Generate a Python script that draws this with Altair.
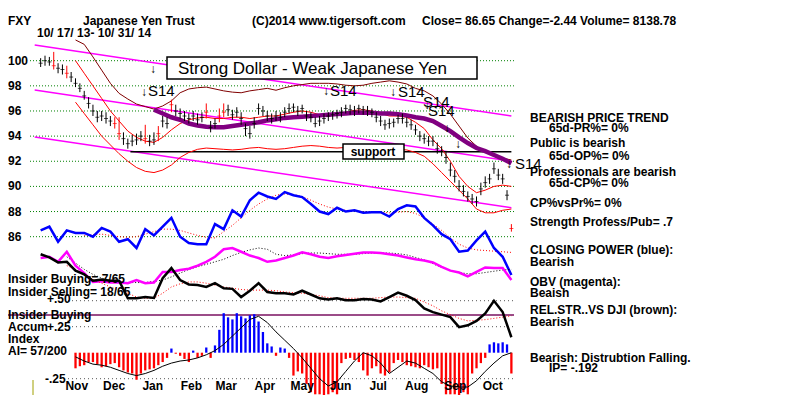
import altair as alt
import pandas as pd
import numpy as np

# ---------------- data ----------------
START = "2013-10-17"

# half-weekly price bars (index h -> week h/2 after START)
close = [99.8,100.0,99.9,99.6,99.4,99.3,99.0,98.7,98.2,97.8,
         97.2,96.6,96.0,95.5,95.6,95.4,95.2,95.0,94.2,93.8,
         93.4,93.6,93.7,94.0,93.8,93.6,93.7,94.2,95.2,95.0,
         96.5,96.0,95.8,95.6,95.4,95.6,95.3,95.5,95.9,94.7,
         95.0,95.6,95.9,96.1,95.7,95.9,95.4,94.6,94.2,95.0,
         96.2,96.0,95.6,95.4,95.6,95.5,95.9,96.2,96.3,96.0,
         96.2,95.6,95.5,95.0,95.2,95.4,95.6,95.7,95.8,95.9,
         96.2,96.1,96.0,96.2,96.1,96.0,95.9,95.5,95.2,94.9,
         95.0,95.1,95.4,95.4,95.1,94.9,94.5,94.0,93.8,93.6,
         93.6,93.0,92.8,92.3,91.3,90.8,90.0,89.6,89.2,89.0,
         88.8,89.8,90.3,90.6,91.4,90.9,90.6,89.3,86.65]
high = [100.2,100.4,100.3,100.7,99.8,99.7,99.6,99.1,98.6,98.2,
        97.6,97.1,96.5,96.0,96.0,95.9,95.6,95.5,95.5,94.3,
        93.8,94.1,94.2,94.4,94.9,94.1,94.3,94.8,95.6,95.5,
        96.9,96.5,96.2,96.0,95.8,96.0,95.8,95.9,96.6,95.2,
        95.4,96.2,96.6,96.5,96.1,96.3,95.9,95.0,94.8,95.5,
        96.6,96.4,96.0,95.8,96.0,95.9,96.3,96.6,96.6,96.4,
        96.5,96.0,95.9,95.5,95.6,95.8,95.9,96.0,96.1,96.3,
        96.5,96.5,96.4,96.5,96.4,96.4,96.2,95.9,95.6,95.3,
        95.4,95.4,95.7,95.8,95.5,95.3,94.9,94.4,94.2,94.0,
        94.0,93.5,93.2,92.8,91.9,91.3,90.5,90.1,89.6,89.4,
        89.2,90.3,90.8,91.0,91.9,91.4,91.0,89.7,87.0]
low = [99.5,99.6,99.6,99.3,99.0,98.9,98.6,98.3,97.9,97.5,
       96.9,96.2,95.6,95.1,95.2,95.0,94.8,94.6,93.7,93.3,
       93.0,93.2,93.3,93.6,93.4,93.2,93.3,93.6,94.7,94.6,
       95.9,95.6,95.4,95.2,95.0,95.2,94.9,95.1,95.4,94.3,
       94.6,95.1,95.5,95.6,95.3,95.5,94.9,94.0,93.8,94.6,
       95.7,95.6,95.2,95.0,95.2,95.1,95.5,95.8,95.9,95.6,
       95.8,95.2,95.1,94.7,94.8,95.0,95.2,95.3,95.4,95.5,
       95.8,95.7,95.6,95.8,95.7,95.6,95.5,95.1,94.8,94.5,
       94.6,94.7,95.0,95.0,94.7,94.5,94.1,93.6,93.4,93.2,
       93.2,92.6,92.4,91.8,90.8,90.3,89.6,89.2,88.8,88.6,
       88.4,89.3,89.9,90.2,91.0,90.5,90.2,88.9,86.4]
red_bars = [3, 6, 17, 18, 24, 27, 30, 38, 41, 42, 108]

# weekly overlays (week index w -> start offset given)
upper_start = 4
upper_band = [101.65,101.3,100.3,99.25,98.2,97.4,96.95,96.55,96.35,96.15,
              96.4,96.8,97.45,97.75,97.85,97.9,97.75,97.6,97.5,97.45,
              97.6,97.7,97.8,97.65,97.85,98.0,98.1,98.2,98.2,98.2,
              98.15,98.05,98.0,98.05,98.2,98.3,98.4,98.3,98.15,97.8,
              97.6,97.2,96.55,95.75,94.8,93.85,93.2,92.75,92.5,92.25,92.1]
mid_start = 4
mid_ma = [100.0,99.0,98.0,97.0,96.0,95.2,94.4,93.9,93.6,93.5,
          93.9,94.5,95.0,95.3,95.45,95.5,95.4,95.4,95.5,95.5,
          95.4,95.5,95.6,95.6,95.75,95.9,96.0,95.9,95.7,95.6,
          95.7,95.9,96.05,96.1,96.0,95.8,95.6,95.6,95.5,95.1,
          94.6,93.7,93.0,92.0,90.8,90.0,89.5,89.7,90.0,90.1,90.0]
lower_start = 4
lower_band = [96.7,95.8,94.9,94.0,93.3,92.6,92.0,91.5,91.2,91.1,
              91.3,91.7,92.3,92.7,92.95,93.05,93.0,92.95,92.9,92.95,
              93.05,93.1,93.0,92.95,93.0,93.1,93.2,93.25,93.2,93.1,
              93.05,93.1,93.15,93.1,93.05,93.0,93.0,92.95,92.9,92.7,
              92.4,91.8,91.1,90.4,89.7,89.0,88.2,87.9,87.9,88.1,88.2]
ma65_start = 13
ma65 = [96.1,95.8,95.5,95.3,95.0,94.85,94.75,94.7,94.7,94.8,
        94.9,95.0,95.1,95.25,95.35,95.45,95.5,95.55,95.6,95.65,
        95.7,95.75,95.8,95.85,95.85,95.85,95.8,95.8,95.75,95.65,
        95.5,95.4,95.2,94.8,94.4,93.9,93.45,93.05,92.8,92.5,
        92.2,91.85]

# trend lines: (week, price) end points
trend_ids = ["t1", "t1", "t2", "t2", "t3", "t3"]
trend_w = [-0.68, 54.0, -0.68, 54.0, -0.68, 54.0]
trend_p = [101.25, 95.6, 97.67, 92.0, 93.93, 88.3]
support_w = [10.3, 54.0]
support_p = [92.75, 92.75]

# lower indicator lines (in the price panel's units)
cp = [86.5,86.8,85.6,86.5,86.3,86.3,86.0,86.7,86.4,85.6,
      85.8,85.1,86.6,86.1,86.8,87.5,86.0,85.5,85.4,85.4,
      87.0,86.6,88.1,87.6,88.9,89.5,89.2,89.0,89.55,89.3,
      89.15,88.6,88.0,87.8,88.3,88.0,88.1,87.9,87.95,87.95,
      87.6,88.2,88.5,88.4,87.5,86.9,86.2,85.8,84.8,84.9,
      85.7,86.4,85.1,84.4,82.95]
cp_ma_start = 5
cp_ma = [86.1,86.15,86.2,86.1,86.0,85.95,86.0,86.2,86.4,86.6,
         86.6,86.5,86.3,86.1,85.95,85.9,86.4,86.9,87.5,88.1,
         88.6,89.0,89.3,89.4,89.35,89.2,88.9,88.6,88.35,88.2,
         88.1,88.05,88.0,87.95,87.95,87.9,87.95,88.0,87.85,87.5,
         87.0,86.5,85.9,85.4,85.1,84.95,84.9,84.85,84.8,84.75]
obv = [84.3,84.4,84.0,84.8,83.7,83.1,82.4,82.45,82.35,82.35,
       82.3,82.55,82.3,82.35,83.2,83.2,83.35,83.45,83.7,84.0,
       84.4,85.0,85.1,84.8,84.5,84.3,84.0,84.1,84.3,84.5,
       84.75,84.6,84.4,84.3,84.45,84.55,84.65,84.75,84.75,84.7,
       84.6,84.5,84.35,84.2,84.1,83.95,83.6,83.3,83.15,82.85,
       83.2,83.55,83.5,83.5,82.55]
obv_ma_start = 3
obv_ma = [84.4,83.9,83.4,83.0,82.7,82.5,82.4,82.35,82.35,82.35,
          82.45,82.55,82.8,83.1,83.4,83.6,83.8,84.0,84.2,84.5,
          84.75,84.95,85.1,85.0,84.6,84.5,84.55,84.65,84.7,84.7,
          84.65,84.6,84.6,84.6,84.65,84.7,84.7,84.7,84.65,84.55,
          84.35,84.15,83.85,83.55,83.3,83.15,83.05,83.05,83.15,83.25,
          83.35,83.4]
rs = [84.6,84.35,83.95,84.0,83.3,83.0,82.5,82.6,82.5,82.5,
      81.1,81.1,81.2,81.12,82.7,83.5,82.55,82.2,82.15,82.0,
      82.3,81.9,81.85,81.2,81.7,82.3,81.6,81.5,81.5,81.4,
      81.7,81.4,81.1,81.0,81.1,80.95,80.95,81.05,81.0,80.85,
      81.2,81.55,81.3,80.96,80.3,80.0,79.8,79.6,78.8,78.95,
      79.3,79.9,80.9,80.0,78.0]
rs_ma_start = 3
rs_ma = [83.7,83.4,83.0,82.6,82.3,82.0,81.75,81.5,81.2,81.1,
         81.1,81.5,82.0,82.25,82.4,82.4,82.3,82.15,82.0,81.9,
         81.8,81.75,81.75,81.75,81.7,81.6,81.55,81.5,81.4,81.3,
         81.15,81.1,81.1,81.1,81.1,81.1,81.15,81.2,81.2,81.15,
         81.1,80.8,80.5,80.1,79.8,79.5,79.3,79.35,79.4,79.5,
         79.6,79.7]

# accumulation index (half-weekly, from h = 8)
ai_start_h = 8
ai = [-0.15,-0.13,-0.12,-0.09,-0.09,-0.11,-0.14,-0.13,-0.11,-0.10,
      -0.14,-0.17,-0.19,-0.20,-0.26,-0.20,-0.17,-0.16,-0.15,-0.12,
      -0.09,-0.05,0.04,-0.01,-0.03,-0.06,-0.09,0.02,-0.05,-0.03,
      0.05,-0.05,0.07,0.22,0.38,0.34,0.32,0.38,0.35,0.33,
      0.36,0.37,0.30,0.20,0.09,0.06,-0.03,0.05,0.04,-0.05,
      -0.22,-0.18,-0.20,-0.30,-0.38,-0.40,-0.40,-0.42,-0.40,-0.38,
      -0.40,-0.10,-0.06,-0.05,-0.07,-0.09,-0.17,-0.22,-0.15,-0.13,
      -0.20,-0.22,-0.19,-0.10,-0.07,-0.09,-0.12,-0.13,-0.14,-0.15,
      -0.12,-0.14,-0.16,-0.15,-0.30,-0.40,-0.40,-0.40,-0.42,-0.38,
      -0.40,-0.20,-0.15,-0.10,-0.05,0.08,0.10,0.09,0.10,0.08,
      -0.20]
ai_ma_start = 4
ai_ma = [-0.04,-0.08,-0.11,-0.12,-0.14,-0.17,-0.20,-0.22,-0.20,-0.17,
         -0.13,-0.10,-0.08,-0.07,-0.05,-0.02,0.02,0.08,0.16,0.24,
         0.32,0.35,0.29,0.20,0.12,0.04,-0.05,-0.15,-0.25,-0.32,
         -0.28,-0.18,-0.08,0.00,-0.03,-0.10,-0.20,-0.14,-0.08,-0.10,
         -0.15,-0.20,-0.28,-0.32,-0.33,-0.33,-0.27,-0.18,-0.10,-0.03,
         0.00]
ai_levels = [0.5, 0.25, -0.25]

price_ticks = [100, 98, 96, 94, 92, 90, 88, 86]
months = ["Nov", "Dec", "Jan", "Feb", "Mar", "Apr", "May", "Jun", "Jul", "Aug", "Sep", "Oct"]
month_mid = ["2013-11-15", "2013-12-15", "2014-01-15", "2014-02-15", "2014-03-15", "2014-04-15",
             "2014-05-15", "2014-06-15", "2014-07-15", "2014-08-15", "2014-09-15", "2014-10-15"]

# ---------------- layout ----------------
W, H = 784, 387
X0, PXW = 28.0, 8.83            # plot x of week 0, px per week
PY100, PXP = 52.7, 12.57        # plot y of price 100, px per price unit
AY0, PXA = 344.7, 104.0         # plot y of AI 0, px per AI unit
XDOM = [-X0 / PXW, (W - X0) / PXW]
PDOM = [100 - (H - PY100) / PXP, 100 + PY100 / PXP]
ADOM = [-(H - AY0) / PXA, AY0 / PXA]
FONT = "Liberation Sans"

def xq(f="w"):
    return alt.X(f"{f}:Q", scale=alt.Scale(domain=XDOM, nice=False, zero=False), axis=None)

def yp(f):
    return alt.Y(f"{f}:Q", scale=alt.Scale(domain=PDOM, nice=False, zero=False), axis=None)

def ya(f):
    return alt.Y(f"{f}:Q", scale=alt.Scale(domain=ADOM, nice=False, zero=False), axis=None)

def weekly(vals, start=0):
    return pd.DataFrame({"w": np.arange(start, start + len(vals)), "v": vals})

def pline(df, color, width=1.0, dash=None):
    kw = dict(color=color, strokeWidth=width)
    if dash:
        kw["strokeDash"] = dash
    return alt.Chart(df).mark_line(**kw).encode(x=xq(), y=yp("v"))

ONE = pd.DataFrame({"a": [0]})

def T(s, x, y, size=12, weight="bold", align="left", color="black"):
    return alt.Chart(ONE).mark_text(text=s, align=align, baseline="alphabetic", fontSize=size,
                                    fontWeight=weight, font=FONT, color=color).encode(
        x=alt.value(x), y=alt.value(y))

layers = []

# green dotted price grid
grid = pd.DataFrame({"p": price_ticks})
layers.append(alt.Chart(grid).mark_rule(color="#008000", strokeWidth=1, strokeDash=[1, 2]).encode(
    y=yp("p"), x=alt.value(22), x2=alt.value(506)))
layers.append(alt.Chart(grid.assign(t=[str(v) for v in price_ticks])).mark_text(
    align="left", baseline="middle", fontSize=12, fontWeight="bold", font=FONT, color="black").encode(
    y=yp("p"), x=alt.value(0), text="t:N"))

# AI dotted grid + purple reference line
layers.append(alt.Chart(pd.DataFrame({"a": ai_levels})).mark_rule(
    color="#555555", strokeWidth=1, strokeDash=[1, 3]).encode(
    y=ya("a"), x=alt.value(60), x2=alt.value(506)))
layers.append(alt.Chart(ONE).mark_rule(color="#7a1060", strokeWidth=1.5).encode(
    y=alt.value(307), x=alt.value(0), x2=alt.value(506)))

# AI histogram
ai_df = pd.DataFrame({"w": (np.arange(len(ai)) + ai_start_h) * 0.5, "ai": ai})
layers.append(alt.Chart(ai_df).mark_bar(width=2.3).encode(
    x=xq(), y=ya("ai"), y2=alt.datum(0),
    color=alt.condition(alt.datum.ai < 0, alt.value("#ff0000"), alt.value("#0000ff"))))
layers.append(alt.Chart(weekly(ai_ma, ai_ma_start)).mark_line(color="black", strokeWidth=1).encode(
    x=xq(), y=ya("v")))

# trend lines, support line
tr = pd.DataFrame({"id": trend_ids, "w": trend_w, "v": trend_p})
layers.append(alt.Chart(tr).mark_line(color="#ff00ff", strokeWidth=1.5).encode(
    x=xq(), y=yp("v"), detail="id:N"))
layers.append(pline(pd.DataFrame({"w": support_w, "v": support_p}), "black", 1.5))

# bands and moving averages
layers.append(pline(weekly(upper_band, upper_start), "#800000", 1))
layers.append(pline(weekly(lower_band, lower_start), "#ff0000", 1))
layers.append(pline(weekly(mid_ma, mid_start), "#ff0000", 1))
layers.append(pline(weekly(ma65, ma65_start), "#800080", 4.5))

# price bars
pr = pd.DataFrame({"w": np.arange(len(close)) * 0.5, "close": close, "hi": high, "lo": low})
pr["red"] = [1 if i in red_bars else 0 for i in range(len(close))]
barcol = alt.condition(alt.datum.red == 1, alt.value("#ff0000"), alt.value("black"))
layers.append(alt.Chart(pr).mark_rule(strokeWidth=1).encode(x=xq(), y=yp("lo"), y2="hi", color=barcol))
layers.append(alt.Chart(pr).mark_tick(orient="horizontal", size=4, thickness=1).encode(
    x=xq(), y=yp("close"), color=barcol))

# indicator lines
layers.append(pline(weekly(cp_ma, cp_ma_start), "#ff0000", 1, [1, 2]))
layers.append(pline(weekly(cp), "#0000ff", 2.5))
layers.append(pline(weekly(obv_ma, obv_ma_start), "black", 1, [1, 2]))
layers.append(pline(weekly(obv), "#ff00ff", 2.5))
layers.append(pline(weekly(rs_ma, rs_ma_start), "#ff0000", 1, [1, 2]))
layers.append(pline(weekly(rs), "black", 2.5))

# boxes
layers.append(alt.Chart(ONE).mark_rect(fill="white", stroke="black", strokeWidth=1.5).encode(
    x=alt.value(159), x2=alt.value(469), y=alt.value(49), y2=alt.value(71)))
layers.append(T("Strong Dollar - Weak Japanese Yen", 170, 66, size=17, weight="normal"))
layers.append(alt.Chart(ONE).mark_rect(fill="white", stroke="black", strokeWidth=1.5).encode(
    x=alt.value(335), x2=alt.value(396), y=alt.value(136), y2=alt.value(151)))
layers.append(T("support", 365, 148, align="center"))

# month labels
mdf = pd.DataFrame({"m": months,
                    "w": [(pd.Timestamp(d) - pd.Timestamp(START)).days / 7 for d in month_mid]})
layers.append(alt.Chart(mdf).mark_text(align="center", baseline="alphabetic", fontSize=12,
                                       fontWeight="bold", font=FONT, color="black").encode(
    x=xq(), y=alt.value(382), text="m:N"))

# signals
for s, x, y in [("↓", 142, 65), ("↓", 133, 88), ("↓", 315, 87), ("↓", 382, 88),
                ("↓", 416, 101), ("↓", 436, 124), ("↓", 447, 140), ("↓", 498, 160)]:
    layers.append(T(s, x, y, size=12, weight="normal"))
for x, y in [(140, 88), (322, 88), (390, 89), (415, 99), (420, 108), (507, 161)]:
    layers.append(T("S14", x, y, size=15, weight="normal"))

# header
layers.append(T("FXY", 0, 17))
layers.append(T("Japanese Yen Trust", 75, 17))
layers.append(T("(C)2014 www.tigersoft.com", 244, 17))
layers.append(T("Close=  86.65  Change=-2.44 Volume= 8138.78", 414, 17))
layers.append(T("10/ 17/ 13- 10/ 31/ 14", 29, 29))

# right commentary
for s, x, y in [("BEARISH PRICE TREND", 522, 114), ("65d-PR%= 0%", 541, 124),
                ("Public is bearish", 522, 139), ("65d-OP%= 0%", 541, 152),
                ("Professionals are bearish", 522, 168), ("65d-CP%= 0%", 541, 179),
                ("CP%vsPr%=  0%", 522, 199), ("Strength Profess/Pub= .7", 522, 218),
                ("CLOSING POWER (blue):", 522, 246), ("Bearish", 522, 258),
                ("OBV (magenta):", 522, 278), ("Beaish", 522, 289),
                ("REL.STR..VS DJI (brown):", 522, 306), ("Bearish", 522, 318),
                ("Bearish: Distrubtion Falling.", 522, 354), ("IP= -.192", 541, 364)]:
    layers.append(T(s, x, y))

# left panel labels
for s, x, y in [("Insider Buying= 7/65", -6, 275), ("Insider Selling= 18/65", -6, 288),
                ("+.50", 39, 295), ("Insider Buying", -6, 311), ("Accum", -6, 323),
                ("+.25", 39, 323), ("Index", -6, 335), ("AI= 57/200", -6, 347), ("-.25", 37, 375)]:
    layers.append(T(s, max(x, 0), y))
layers.append(alt.Chart(ONE).mark_rule(color="#a0a000", strokeWidth=1).encode(
    x=alt.value(25), y=alt.value(372), y2=alt.value(387)))

chart = alt.layer(*layers).resolve_scale(y="independent").properties(
    width=W, height=H, autosize=alt.AutoSizeParams(type="none"), padding=0,
    background="white").configure_view(stroke=None)

chart.save("out.html", embed_options={"renderer": "svg", "actions": False})
